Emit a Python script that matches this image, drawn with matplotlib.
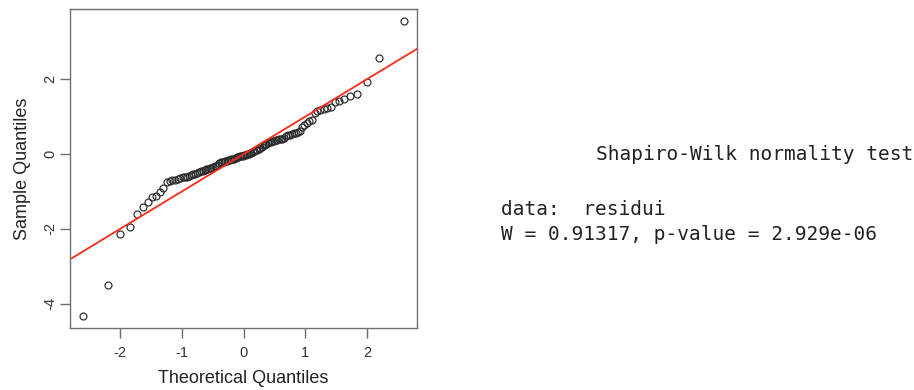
from statistics import NormalDist

import matplotlib
matplotlib.use("Agg")
import matplotlib.pyplot as plt
import numpy as np

# sorted model residuals (standardised)
residui = [
    -4.33, -3.51, -2.13, -1.95, -1.59, -1.41, -1.28, -1.15, -1.13, -1.00,
    -0.91, -0.74, -0.71, -0.69, -0.68, -0.66, -0.64, -0.62, -0.61, -0.60,
    -0.58, -0.56, -0.54, -0.52, -0.50, -0.48, -0.46, -0.45, -0.43, -0.41,
    -0.40, -0.38, -0.37, -0.35, -0.33, -0.31, -0.29, -0.24, -0.22, -0.21,
    -0.20, -0.19, -0.18, -0.17, -0.15, -0.14, -0.13, -0.12, -0.10, -0.09,
    -0.08, -0.06, -0.05, -0.04, -0.03, -0.02, 0.00, 0.01, 0.03, 0.04,
    0.06, 0.08, 0.10, 0.12, 0.14, 0.17, 0.20, 0.23, 0.25, 0.27,
    0.29, 0.31, 0.33, 0.35, 0.36, 0.37, 0.38, 0.39, 0.40, 0.41,
    0.43, 0.47, 0.50, 0.52, 0.54, 0.55, 0.57, 0.58, 0.62, 0.72,
    0.78, 0.84, 0.88, 0.91, 1.10, 1.14, 1.18, 1.20, 1.22, 1.27,
    1.38, 1.43, 1.47, 1.55, 1.60, 1.92, 2.56, 3.56,
]
x_ticks = [-2, -1, 0, 1, 2]
y_ticks = [-4, -2, 0, 2]

test_lines = [
    "Shapiro-Wilk normality test",
    "data:  residui",
    "W = 0.91317, p-value = 2.929e-06",
]

# theoretical quantiles as in qqnorm (ppoints with a = 0.5)
sample = np.sort(np.array(residui))
n = len(sample)
probs = (np.arange(1, n + 1) - 0.5) / n
theo = np.array([NormalDist().inv_cdf(p) for p in probs])

W, H = 914, 390
fig = plt.figure(figsize=(W / 100, H / 100), dpi=100)
fig.patch.set_facecolor("white")

ax = fig.add_axes([70 / W, 1 - 328 / H, 347 / W, 319 / H])

ax.plot(theo, sample, linestyle="none", marker="o", markersize=5.0,
        markerfacecolor="none", markeredgecolor="#2a2a2a", markeredgewidth=0.85)
ax.axline((0, 0), slope=1, color="#ff2a1a", linewidth=1.3)

# R-style 4% padding around the data range
def padded(v):
    lo, hi = v.min(), v.max()
    pad = 0.04 * (hi - lo)
    return lo - pad, hi + pad

ax.set_xlim(*padded(theo))
ax.set_ylim(*padded(sample))

ax.set_xticks(x_ticks)
ax.set_yticks(y_ticks)
ax.set_xticklabels([str(t) for t in x_ticks])
ax.set_yticklabels([str(t) for t in y_ticks], rotation=90, va="center")

for side in ax.spines.values():
    side.set_color("#707070")
    side.set_linewidth(1.0)
ax.tick_params(direction="out", length=7, width=1.0, color="#707070",
               labelsize=10.5, labelcolor="#333333")
ax.tick_params(axis="x", pad=6)
ax.tick_params(axis="y", pad=2)

for lab in ax.get_xticklabels() + ax.get_yticklabels():
    lab.set_family("Liberation Sans")

ax.set_xlabel("Theoretical Quantiles", fontsize=13, family="Liberation Sans",
              color="#222222", labelpad=7)
ax.set_ylabel("Sample Quantiles", fontsize=13, family="Liberation Sans",
              color="#222222", labelpad=9)

# console output of shapiro.test
mono = dict(family="DejaVu Sans Mono", fontsize=14.0, color="#222222",
            va="baseline", ha="left")
fig.text(596 / W, 1 - 160 / H, test_lines[0], **mono)
fig.text(501 / W, 1 - 215 / H, test_lines[1], **mono)
fig.text(501 / W, 1 - 240 / H, test_lines[2], **mono)

fig.savefig("out.png", dpi=100)
